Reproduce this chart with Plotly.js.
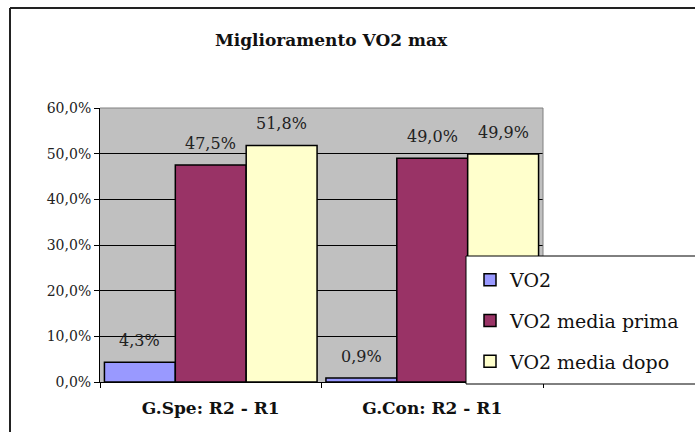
<!DOCTYPE html>
<html>
<head>
<meta charset="utf-8">
<script src="https://cdn.plot.ly/plotly-3.0.1.min.js"></script>
<style>html,body{margin:0;padding:0;background:#fff;}#chart{width:695px;height:432px;}</style>
</head>
<body>
<div id="chart"></div>
<script>
const categories = ["G.Spe: R2 - R1", "G.Con: R2 - R1"];
const seriesNames = ["VO2", "VO2 media prima", "VO2 media dopo"];
const vo2 = [0.043, 0.009];
const vo2MediaPrima = [0.475, 0.490];
const vo2MediaDopo = [0.518, 0.499];
const yTickVals = [0, 0.1, 0.2, 0.3, 0.4, 0.5, 0.6];

const seriesValues = [vo2, vo2MediaPrima, vo2MediaDopo];
const colors = ["#9999FF", "#993366", "#FFFFCC"];
const FONT = "DejaVu Serif";
const bargap = 0.04;

const traces = seriesValues.map((vals, s) => ({
  type: "bar",
  name: seriesNames[s],
  x: categories,
  y: vals,
  legendgroup: "g" + s,
  marker: {color: colors[s], line: {color: "#000", width: 1.5}},
  hoverinfo: "none"
}));

const fmt = v => (v * 100).toFixed(1).replace(".", ",") + "%";
const w = (1 - bargap) / 3;
const annotations = [];
seriesValues.forEach((vals, s) => {
  vals.forEach((v, i) => {
    annotations.push({
      x: i + (s - 1) * w, y: v, xref: "x", yref: "y",
      text: fmt(v), showarrow: false, yanchor: "bottom", yshift: 10,
      font: {family: FONT, size: 16, color: "#222"}
    });
  });
});

const px = x => (x - 100) / 443;
const py = y => (382 - y) / 274;

const shapes = [
  {type: "line", xref: "paper", yref: "paper", x0: px(10), x1: px(10), y0: py(8), y1: py(450), line: {color: "#222", width: 2}},
  {type: "line", xref: "paper", yref: "paper", x0: px(10), x1: px(710), y0: py(8), y1: py(8), line: {color: "#222", width: 2}},
  {type: "line", xref: "paper", yref: "paper", x0: 0, x1: 1, y0: 1, y1: 1, line: {color: "#808080", width: 1}, layer: "above"},
  {type: "line", xref: "paper", yref: "paper", x0: 1, x1: 1, y0: 0, y1: 1, line: {color: "#808080", width: 1}, layer: "above"},
  {type: "rect", xref: "paper", yref: "paper", x0: px(466), x1: px(710), y0: py(384), y1: py(256), fillcolor: "#fff", line: {color: "#000", width: 1}, layer: "above"}
];

const layout = {
  width: 695, height: 432,
  margin: {l: 100, r: 152, t: 108, b: 50, autoexpand: false},
  font: {family: FONT},
  paper_bgcolor: "#fff",
  plot_bgcolor: "#C0C0C0",
  separators: ",.",
  barmode: "group",
  bargap: bargap,
  bargroupgap: 0,
  showlegend: true,
  title: {
    text: "<b>Miglioramento VO2 max</b>",
    xref: "container", yref: "container",
    x: 331 / 695, y: 1 - 40 / 432, xanchor: "center", yanchor: "middle",
    font: {family: FONT, size: 17, color: "#111"}
  },
  xaxis: {
    type: "category",
    showline: true, linecolor: "#000", linewidth: 1,
    ticks: "outside", tickson: "boundaries", ticklen: 5, tickcolor: "#000",
    showgrid: false,
    tickfont: {family: FONT, size: 17, color: "#111", weight: "bold"},
    ticklabelstandoff: 11
  },
  yaxis: {
    range: [0, 0.6],
    tickvals: yTickVals,
    tickformat: ".1%",
    showline: true, linecolor: "#000", linewidth: 1,
    ticks: "outside", ticklen: 5, tickcolor: "#000",
    showgrid: true, gridcolor: "#000", gridwidth: 1,
    zeroline: false,
    tickfont: {family: FONT, size: 14, color: "#222"}
  },
  legend: {
    x: px(470), y: py(261), xanchor: "left", yanchor: "top",
    bgcolor: "rgba(0,0,0,0)", borderwidth: 0,
    traceorder: "grouped", tracegroupgap: 13,
    font: {family: FONT, size: 19, color: "#111"}
  },
  annotations: annotations,
  shapes: shapes
};

Plotly.newPlot("chart", traces, layout, {staticPlot: true, displayModeBar: false});
</script>
</body>
</html>
